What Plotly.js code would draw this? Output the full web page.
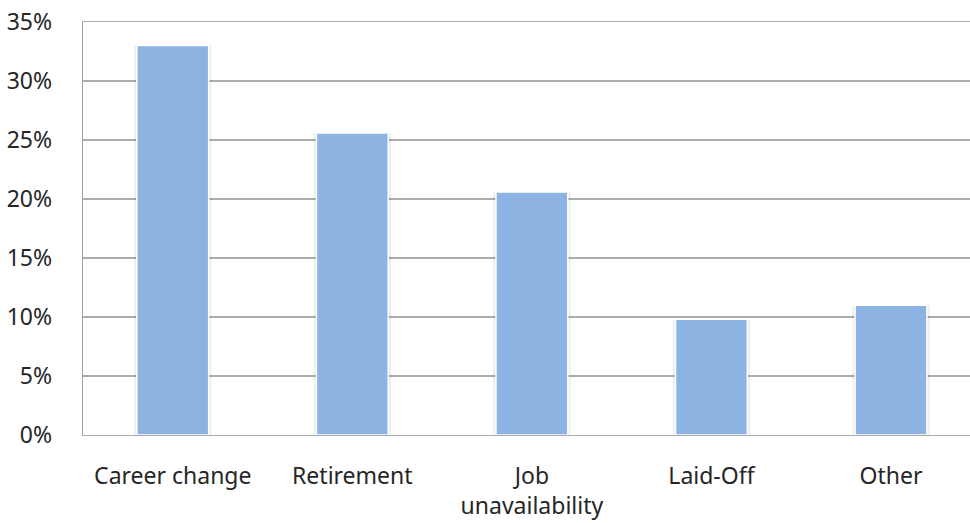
<!DOCTYPE html>
<html>
<head>
<meta charset="utf-8">
<script src="https://cdn.plot.ly/plotly-3.0.1.min.js"></script>
<style>html,body{margin:0;padding:0;background:#fff;}#chart{width:970px;height:523px;}</style>
</head>
<body>
<div id="chart"></div>
<script>
var categories = ["Career change", "Retirement", "Job<br>unavailability", "Laid-Off", "Other"];
var values = [0.33, 0.256, 0.206, 0.098, 0.11];
var tickValues = [0, 0.05, 0.10, 0.15, 0.20, 0.25, 0.30, 0.35];
var tickLabels = ["0%", "5%", "10%", "15%", "20%", "25%", "30%", "35%"];

var positions = [0, 1, 2, 3, 4];

var shadow = {
  type: "bar",
  x: positions,
  y: values,
  width: 0.43,
  marker: {color: "rgba(0,0,0,0.07)", line: {width: 0}},
  hoverinfo: "none"
};

var trace = {
  type: "bar",
  x: positions,
  y: values,
  width: 0.40,
  marker: {color: "#8db3e2", line: {color: "#ffffff", width: 1.5}},
  hoverinfo: "none"
};

var layout = {
  width: 970, height: 523,
  margin: {l: 83, r: 0, t: 22, b: 88},
  paper_bgcolor: "#ffffff", plot_bgcolor: "#ffffff",
  showlegend: false,
  barmode: "overlay",
  font: {family: "Noto Sans, DejaVu Sans, sans-serif", size: 23, color: "#262626"},
  xaxis: {
    range: [-0.5, 4.44],
    tickmode: "array",
    tickvals: positions,
    ticktext: categories,
    showgrid: false,
    zeroline: false,
    showline: true,
    mirror: true,
    linecolor: "#acacac",
    linewidth: 1.3,
    ticks: "",
    ticklabelstandoff: 20,
    fixedrange: true
  },
  yaxis: {
    range: [0, 0.35],
    tickmode: "array",
    tickvals: tickValues,
    ticktext: tickLabels,
    showgrid: true,
    gridcolor: "#acacac",
    gridwidth: 1.3,
    zeroline: false,
    showline: true,
    linecolor: "#a0a0a0",
    linewidth: 1.3,
    ticks: "",
    ticklabelstandoff: 25,
    fixedrange: true
  }
};

Plotly.newPlot("chart", [shadow, trace], layout, {displayModeBar: false, staticPlot: true});
</script>
</body>
</html>
